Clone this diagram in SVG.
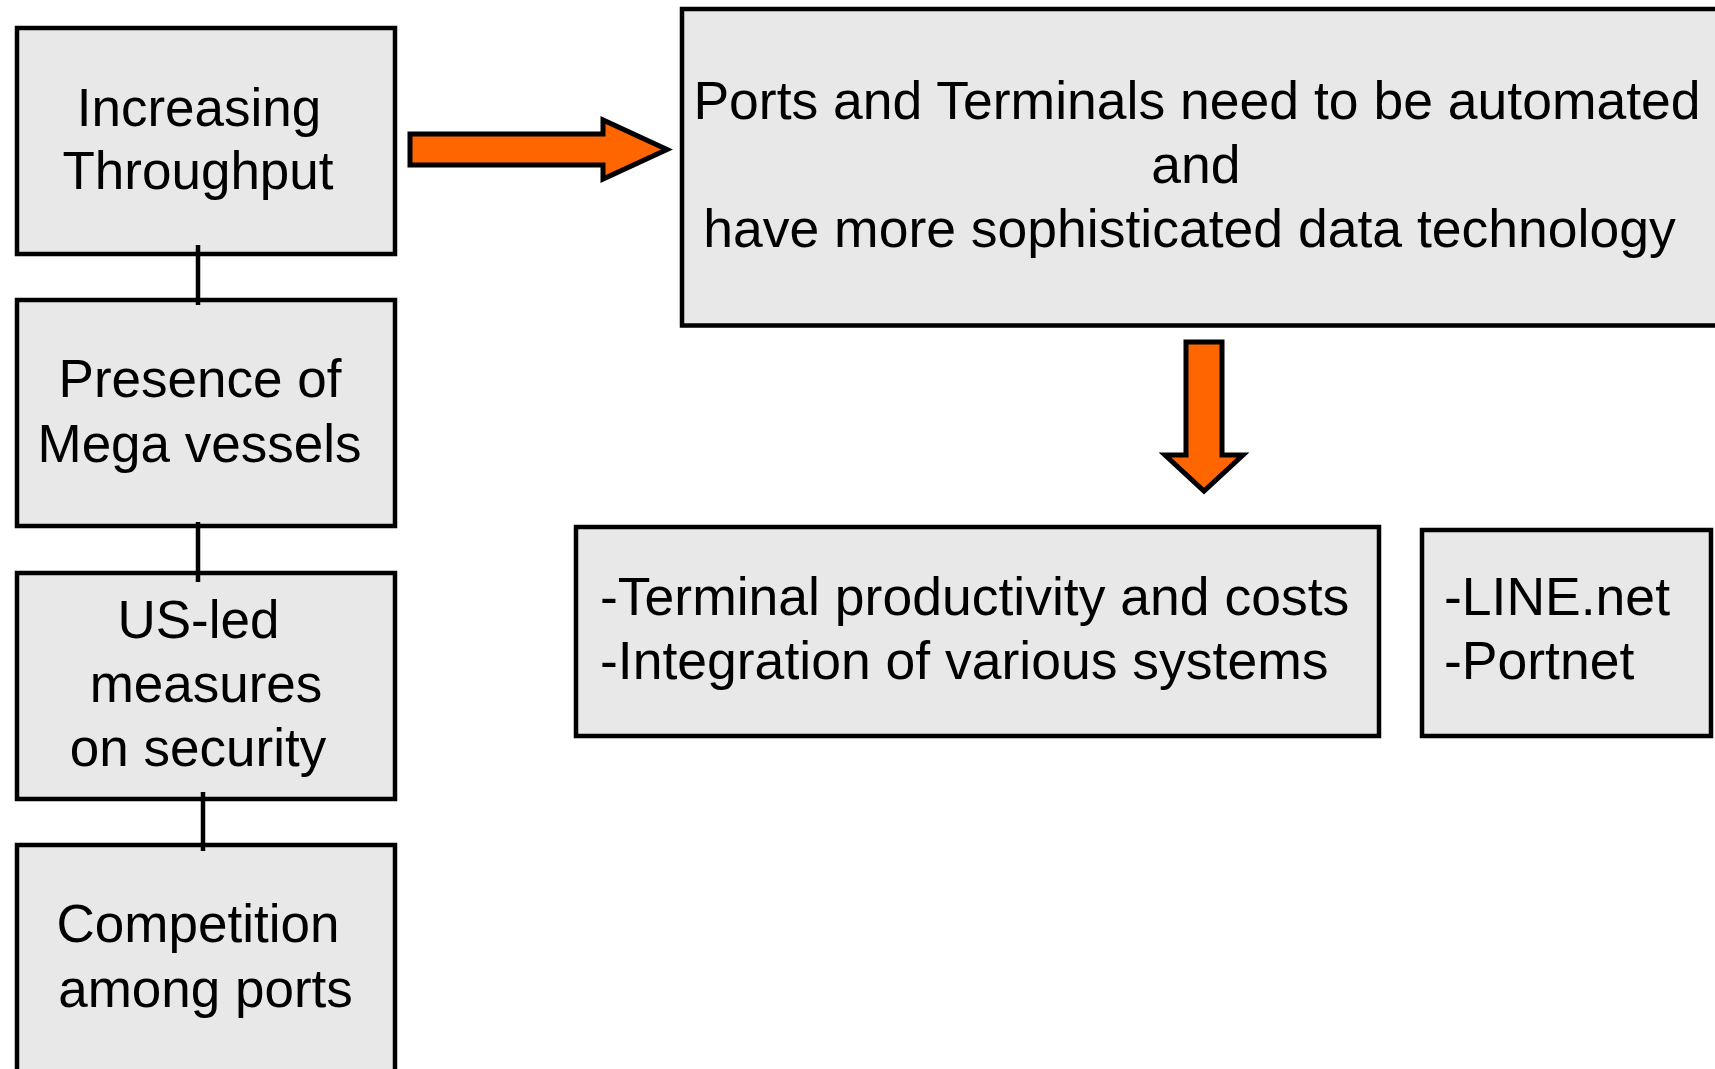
<svg xmlns="http://www.w3.org/2000/svg" width="1715" height="1069" viewBox="0 0 1715 1069">
<style>
.box{fill:#e8e8e8;stroke:#000;stroke-width:4.5}
.t{font-family:"Liberation Sans",Arial,sans-serif;font-size:53px;fill:#000}
.tr{font-family:"Liberation Sans",Arial,sans-serif;font-size:53.5px;fill:#000}
.c{text-anchor:middle}
.arr{fill:#ff6600;stroke:#000;stroke-width:5;stroke-linejoin:miter}
.ln{stroke:#000;stroke-width:4.5;fill:none}
</style>
<rect width="1715" height="1069" fill="#fff"/>
<g id="node-throughput">
<rect class="box" x="17" y="28" width="378" height="226"/>
<text class="t c" x="199" y="126">Increasing</text>
<text class="t c" x="198" y="189">Throughput</text>
</g>
<g id="node-mega">
<rect class="box" x="17" y="300" width="378" height="226"/>
<text class="t c" x="200" y="397">Presence of</text>
<text class="t c" x="199.5" y="462">Mega vessels</text>
</g>
<g id="node-security">
<rect class="box" x="17" y="573" width="378" height="226"/>
<text class="t c" x="198.5" y="638">US-led</text>
<text class="t c" x="206" y="702">measures</text>
<text class="t c" x="198" y="766">on security</text>
</g>
<g id="node-competition">
<rect class="box" x="17" y="845" width="378" height="300"/>
<text class="t c" x="198" y="942">Competition</text>
<text class="t c" x="205.5" y="1007">among ports</text>
</g>
<g id="node-automation">
<rect class="box" x="682" y="9" width="1080" height="316.5"/>
<text class="tr c" x="1197" y="119">Ports and Terminals need to be automated</text>
<text class="tr c" x="1196" y="183">and</text>
<text class="tr c" x="1189.5" y="247">have more sophisticated data technology</text>
</g>
<g id="node-issues">
<rect class="box" x="576" y="527" width="803" height="209"/>
<text class="tr" x="600" y="615">-Terminal productivity and costs</text>
<text class="tr" x="600" y="679">-Integration of various systems</text>
</g>
<g id="node-systems">
<rect class="box" x="1422" y="530" width="289" height="206"/>
<text class="tr" x="1444" y="615">-LINE.net</text>
<text class="tr" x="1444" y="679">-Portnet</text>
</g>
<g id="connectors">
<line class="ln" x1="198" y1="245" x2="198" y2="305"/>
<line class="ln" x1="198" y1="522" x2="198" y2="582"/>
<line class="ln" x1="203" y1="792" x2="203" y2="851"/>
<polygon class="arr" points="410,134 603,134 603,120 667,149.5 603,179 603,165 410,165"/>
<polygon class="arr" points="1186,342 1222,342 1222,455 1243,455 1204,491 1165,455 1186,455"/>
</g>
</svg>
